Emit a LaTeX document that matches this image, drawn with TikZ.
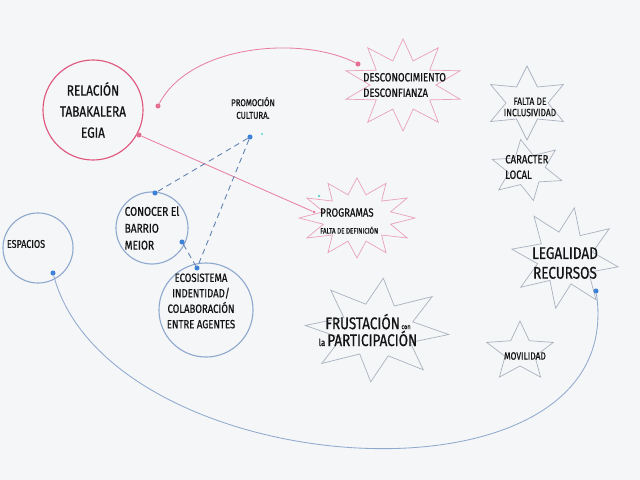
\documentclass[tikz,border=0pt]{standalone}
\usepackage{fontspec}
\setmainfont{Fira Sans}
\newfontfamily\hand[FakeStretch=0.8, FakeBold=0.6]{Fira Sans}
\definecolor{board}{HTML}{F5F6F8}
\definecolor{rpink}{HTML}{E0577E}
\definecolor{spink}{HTML}{E9A3B8}
\definecolor{cblue}{HTML}{8FA9CF}
\definecolor{dblue}{HTML}{3D82D6}
\definecolor{dashblue}{HTML}{5A7DB0}
\definecolor{sgray}{HTML}{A9B2BF}
\definecolor{ink}{HTML}{141414}
\definecolor{cyanmark}{HTML}{5FD6C8}
% style, center, rx, ry, n, 2n, ratio, rotation
\newcommand{\spikystar}[8]{%
  \draw[#1,shift={(#2)}] plot[variable=\k, samples at={0,...,#6}]
    ({(#3)*(1-(1-#7)*mod(\k,2))*cos(#8+\k*180/#5)},
     {(#4)*(1-(1-#7)*mod(\k,2))*sin(#8+\k*180/#5)}) -- cycle;}
\begin{document}
\begin{tikzpicture}[x=0.025cm,y=-0.025cm,
  lbl/.style={text=ink, align=center, inner sep=0pt},
  bubble/.style={draw, circle, inner sep=0pt, line width=0.8pt},
  bdot/.style={circle, fill=dblue, inner sep=0pt, minimum size=3.6pt},
  pdot/.style={circle, fill=rpink!85, inner sep=0pt, minimum size=3.6pt},
  pinkstar/.style={draw=spink, line width=0.5pt, line join=miter},
  graystar/.style={draw=sgray, line width=0.5pt, line join=miter},
  dashlink/.style={draw=dashblue, dashed, line width=0.6pt, dash pattern=on 4pt off 3pt},
  pinklink/.style={draw=rpink!75, line width=0.6pt},
  bluelink/.style={draw=cblue, line width=0.6pt}]
\fill[board] (0,0) rectangle (640,480);
\useasboundingbox (0,0) rectangle (640,480);

% stars
\spikystar{pinkstar}{403,85}{60}{46}{10}{20}{0.55}{90}
\spikystar{graystar}{527,103}{42}{37}{6}{12}{0.5}{90}
\spikystar{graystar}{527,170}{37}{31}{6}{12}{0.5}{80}
\spikystar{pinkstar}{357,218}{58}{40}{12}{24}{0.6}{90}
\spikystar{graystar}{565,258}{54}{51}{8}{16}{0.52}{100}
\spikystar{graystar}{377,330}{72}{52}{8}{16}{0.52}{95}
\spikystar{graystar}{520,352}{35}{31}{5}{10}{0.45}{-90}

% circles
\node[bubble, draw=rpink, minimum size=2.5cm, lbl, font={\hand\fontsize{10.5}{15}\selectfont}] (relc) at (93,110) {RELACIÓN\\TABAKALERA\\EGIA};
\node[bubble, draw=cblue, minimum size=1.8cm, lbl, align=left, font={\hand\fontsize{9}{12}\selectfont}] (conoc) at (152,228) {CONOCER El\\BARRIO\\MEIOR};
\node[bubble, draw=cblue, minimum size=2.35cm] (ecoc) at (206,310) {};
\node[lbl, font={\hand\fontsize{8.5}{11}\selectfont}] (ecot) at (201,301) {ECOSISTEMA\\INDENTIDAD/\\COLABORACIÓN\\ENTRE AGENTES};
\node[bubble, draw=cblue, minimum size=1.75cm] (espc) at (38,248) {};
\node[lbl, font={\hand\fontsize{8}{10}\selectfont}] (espt) at (26,244) {ESPACIOS};

% star labels
\node[lbl, align=left, anchor=west, font={\hand\fontsize{8.5}{11}\selectfont}] (desc) at (363,85) {DESCONOCIMIENTO\\DESCONFIANZA};
\node[lbl, font={\hand\fontsize{7.5}{8}\selectfont}] (falta) at (530,107) {FALTA DE\\INCLUSIVIDAD};
\node[lbl, align=left, anchor=west, font={\hand\fontsize{8.5}{11}\selectfont}] (carac) at (505,167) {CARACTER\\LOCAL};
\node[lbl, align=left, anchor=west] (prog) at (320,221) {{\hand\fontsize{8.5}{9}\selectfont PROGRAMAS}\\{\hand\fontsize{5.5}{8}\selectfont FALTA DE DEFINICIÓN}};
\node[lbl, font={\hand\fontsize{12}{14}\selectfont}] (legal) at (565,263) {LEGALIDAD\\RECURSOS};
\node[lbl] (frust) at (368,330) {{\hand\fontsize{12}{14}\selectfont FRUSTACIÓN}{\hand\fontsize{5}{6}\selectfont\ con}\\{\hand\fontsize{7}{14}\selectfont la }{\hand\fontsize{12}{14}\selectfont PARTICIPACIÓN}};
\node[lbl, font={\hand\fontsize{7.5}{9}\selectfont}] (movil) at (525,356) {MOVILIDAD};
\node[lbl, font={\hand\fontsize{7}{9}\selectfont}] (promo) at (253,108) {PROMOCIÓN\\CULTURA.};

% dots
\node[pdot] (pd1) at (358,64) {};
\node[pdot] (pd2) at (158,106) {};
\node[pdot] (pd3) at (139,135) {};
\node[pdot, minimum size=2pt] (pd4) at (314,212) {};
\node[circle, fill=cyanmark, inner sep=0pt, minimum size=2pt] (cy1) at (319,196) {};
\node[bdot] (bd1) at (250,137) {};
\node[bdot, minimum size=1.5pt, fill=cyanmark] (bd1b) at (262,134) {};
\node[bdot] (bd2) at (155,193) {};
\node[bdot] (bd3) at (182,242) {};
\node[bdot] (bd4) at (197,268) {};
\node[bdot] (bd5) at (53,273) {};
\node[bdot] (bd6) at (596,291) {};

% connectors
\draw[pinklink] (pd1) .. controls (300,35) and (190,45) .. (pd2);
\draw[pinklink] (pd3) -- (pd4);
\draw[dashlink] (bd1) -- (bd2);
\draw[dashlink] (bd1) -- (bd4);
\draw[dashlink] (bd3) -- (bd4);
\draw[bluelink] (bd5) .. controls (110,485) and (630,520) .. (bd6);
\end{tikzpicture}
\end{document}
